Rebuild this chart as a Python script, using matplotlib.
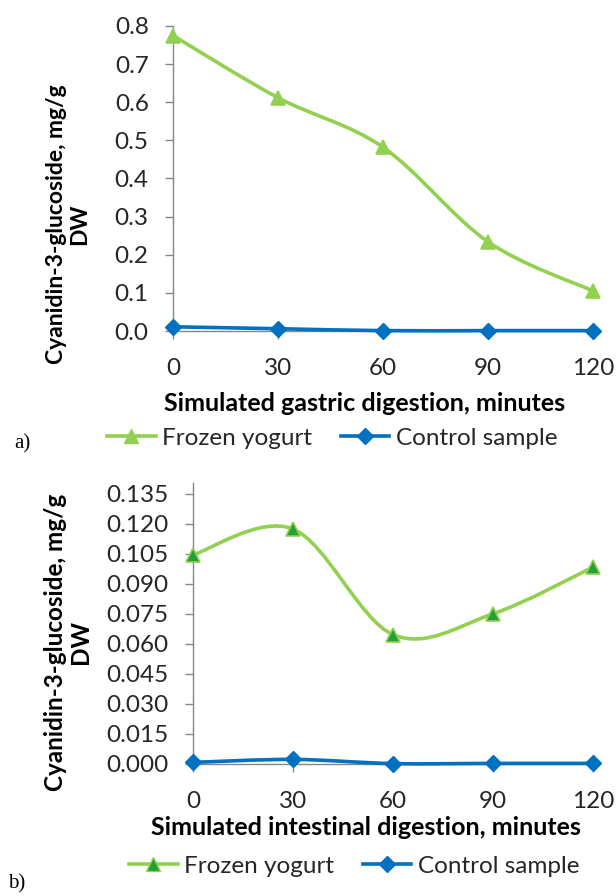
import numpy as np
import matplotlib
matplotlib.use("Agg")
import matplotlib.pyplot as plt
from matplotlib.path import Path
from matplotlib.patches import PathPatch
from matplotlib.lines import Line2D
from matplotlib.ticker import FormatStrFormatter

minutes = [0, 30, 60, 90, 120]
gastric_frozen = [0.775, 0.612, 0.482, 0.234, 0.105]
gastric_control = [0.011, 0.006, 0.001, 0.001, 0.001]
intestinal_frozen = [0.1046, 0.1175, 0.0647, 0.0751, 0.0984]
intestinal_control = [0.0008, 0.0023, 0.0002, 0.0003, 0.0003]
series_labels = ["Frozen yogurt", "Control sample"]

GREEN = "#92D050"
DARKGREEN = "#22A03A"
BLUE = "#0070C0"
GRAY = "#868686"
TXT = "#262626"
FONT = "Lato"

plt.rcParams["font.family"] = [FONT, "DejaVu Sans"]

fig = plt.figure(figsize=(6.16, 8.96), dpi=100)


def smooth_path(x, y):
    x = np.asarray(x, float)
    y = np.asarray(y, float)
    pts = np.column_stack([x, y])
    n = len(pts)
    verts = [pts[0]]
    codes = [Path.MOVETO]
    for i in range(n - 1):
        p0 = pts[i - 1] if i > 0 else pts[i]
        p1 = pts[i]
        p2 = pts[i + 1]
        p3 = pts[i + 2] if i + 2 < n else pts[i + 1]
        c1 = p1 + (p2 - p0) / 6.0
        c2 = p2 - (p3 - p1) / 6.0
        verts += [c1, c2, p2]
        codes += [Path.CURVE4] * 3
    return Path(verts, codes)


def panel(rect, frozen, control, ylim, yticks, fmt, xlabel, tri_face, tri_edge,
          ylab_xy, ylab_size, leg_xy, tag_xy, tag, xlab_xy):
    ax = fig.add_axes(rect)
    for vals, color in [(control, BLUE), (frozen, GREEN)]:
        ax.add_patch(PathPatch(smooth_path(minutes, vals), facecolor="none",
                               edgecolor=color, lw=2.6, clip_on=False, zorder=3))
    ax.plot(minutes, frozen, ls="none", marker="^", ms=10, mfc=tri_face,
            mec=tri_edge, mew=1.2, clip_on=False, zorder=4)
    ax.plot(minutes, control, ls="none", marker="D", ms=8, mfc=BLUE,
            mec=BLUE, clip_on=False, zorder=4)
    ax.set_xlim(0, 120)
    ax.set_ylim(*ylim)
    ax.set_xticks(minutes)
    ax.set_yticks(yticks)
    ax.yaxis.set_major_formatter(FormatStrFormatter(fmt))
    for s in ["top", "right"]:
        ax.spines[s].set_visible(False)
    for s in ["left", "bottom"]:
        ax.spines[s].set_color(GRAY)
        ax.spines[s].set_linewidth(1.0)
    ax.tick_params(axis="y", length=5.5, width=1, color=GRAY, pad=12,
                   labelsize=17.5, labelcolor=TXT)
    ax.tick_params(axis="x", length=5.5, width=1, color=GRAY, pad=14,
                   labelsize=17.5, labelcolor=TXT)
    fig.text(xlab_xy[0], xlab_xy[1], xlabel, ha="center", va="center",
             fontsize=18, fontweight="bold", color="black")
    fig.text(ylab_xy[0], ylab_xy[1], "Cyanidin-3-glucoside, mg/g\nDW",
             rotation=90, ha="center", va="center", fontsize=ylab_size,
             fontweight="bold", color="black", linespacing=1.12,
             multialignment="center")
    handles = [
        Line2D([], [], color=GREEN, lw=2.6, marker="^", ms=10, mfc=tri_face,
               mec=tri_edge),
        Line2D([], [], color=BLUE, lw=2.6, marker="D", ms=8, mfc=BLUE, mec=BLUE),
    ]
    leg = fig.legend(handles, series_labels, loc="center", bbox_to_anchor=leg_xy,
                     ncol=2, frameon=False, fontsize=17.5, handlelength=2.0,
                     handletextpad=0.25, columnspacing=1.2)
    for t in leg.get_texts():
        t.set_color(TXT)
    fig.text(tag_xy[0], tag_xy[1], tag, ha="left", va="center", fontsize=15,
             family=["Liberation Serif"], color="black")
    return ax


W, H = 616.0, 896.0

# panel a
panel([173 / W, 1 - 331 / H, (593 - 173) / W, (331 - 26) / H],
      gastric_frozen, gastric_control, (0, 0.8), np.arange(0, 0.81, 0.1), "%.1f",
      "Simulated gastric digestion, minutes", GREEN, GREEN,
      (68 / W, 1 - 224 / H), 16.5, (332 / W, 1 - 438 / H),
      (14 / W, 1 - 444 / H), "a)", (365 / W, 1 - 403 / H))

# panel b
panel([193 / W, 1 - 764 / H, (593 - 193) / W, (764 - 483) / H],
      intestinal_frozen, intestinal_control, (0, 0.1405),
      np.arange(0, 0.1351, 0.015), "%.3f",
      "Simulated intestinal digestion, minutes", DARKGREEN, GREEN,
      (68 / W, 1 - 642 / H), 17.5, (354 / W, 1 - 866 / H),
      (8 / W, 1 - 884 / H), "b)", (366 / W, 1 - 827 / H))

fig.savefig("out.png", dpi=100, facecolor="white")
